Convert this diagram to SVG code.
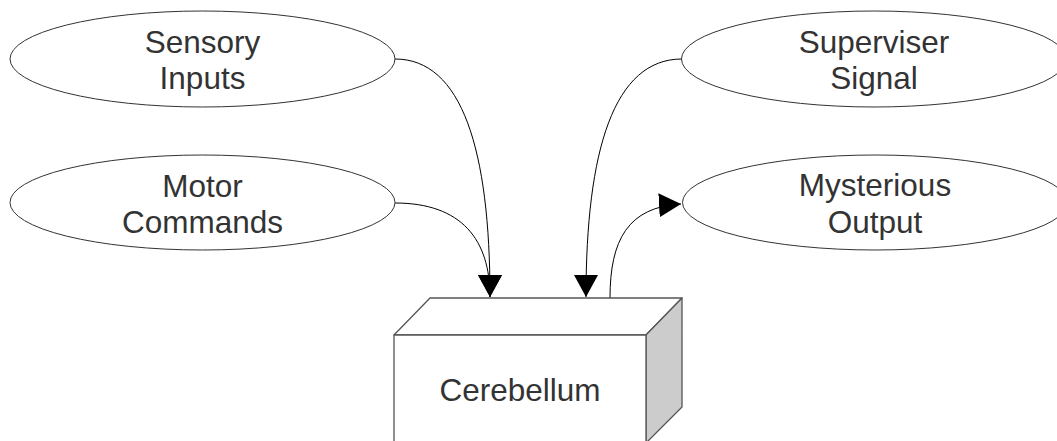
<svg xmlns="http://www.w3.org/2000/svg" width="1057" height="441" viewBox="0 0 1057 441">
  <style>
    .oval { fill: #ffffff; stroke: #333333; stroke-width: 1; }
    .label { font-family: "Liberation Sans", Arial, sans-serif; font-size: 31.5px; fill: #333333; text-anchor: middle; }
    .wire { fill: none; stroke: #000000; stroke-width: 1; }
    .box { stroke: #555555; stroke-width: 1.3; stroke-linejoin: round; }
  </style>
  <defs>
    <marker id="head" viewBox="0 0 22 24" refX="22" refY="12" markerWidth="22" markerHeight="24" markerUnits="userSpaceOnUse" orient="auto">
      <path d="M0,0 L22,12 L0,24 Z" fill="#000000"/>
    </marker>
  </defs>
  <rect width="1057" height="441" fill="#ffffff"/>

  <g id="connectors">
    <path class="wire" d="M395,59 C462,59 490,150 490,297" marker-end="url(#head)"/>
    <path class="wire" d="M395,203 C462,203 490,240 490,297" marker-end="url(#head)"/>
    <path class="wire" d="M682,59 C614,59 586,150 586,297" marker-end="url(#head)"/>
    <path class="wire" d="M610,298 C610,240 628,207 681,204" marker-end="url(#head)"/>
  </g>

  <g id="sensory-inputs">
    <ellipse class="oval" cx="202.5" cy="59" rx="192.5" ry="48"/>
    <text class="label" x="202.5" y="53">Sensory</text>
    <text class="label" x="202.5" y="89">Inputs</text>
  </g>

  <g id="motor-commands">
    <ellipse class="oval" cx="202.5" cy="202.5" rx="192.5" ry="47.5"/>
    <text class="label" x="202.5" y="196.5">Motor</text>
    <text class="label" x="202.5" y="233">Commands</text>
  </g>

  <g id="superviser-signal">
    <ellipse class="oval" cx="874" cy="59" rx="192.5" ry="48"/>
    <text class="label" x="874" y="53">Superviser</text>
    <text class="label" x="874" y="89">Signal</text>
  </g>

  <g id="mysterious-output">
    <ellipse class="oval" cx="875" cy="202.5" rx="192.5" ry="47.5"/>
    <text class="label" x="875" y="195.5">Mysterious</text>
    <text class="label" x="875" y="233">Output</text>
  </g>

  <g id="cerebellum">
    <path class="box" d="M394,335 L430,298 L682,298 L646,335 Z" fill="#ffffff"/>
    <path class="box" d="M646,335 L682,298 L682,407 L646,443 Z" fill="#cccccc"/>
    <rect class="box" x="394" y="335" width="252" height="108" fill="#ffffff"/>
    <text class="label" x="520" y="400.5">Cerebellum</text>
  </g>
</svg>
